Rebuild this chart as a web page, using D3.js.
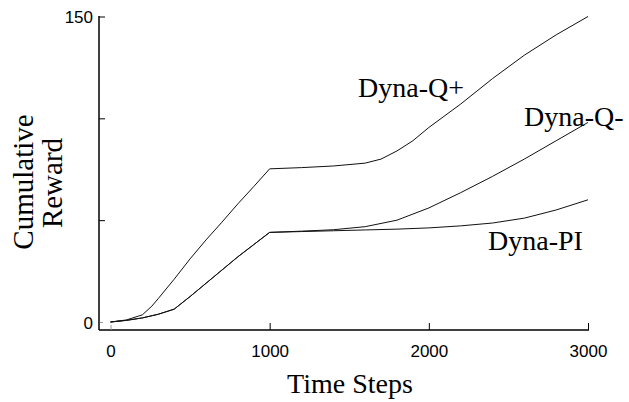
<!DOCTYPE html>
<html><head><meta charset="utf-8">
<script src="https://cdn.jsdelivr.net/npm/d3@7"></script>
<style>
body{margin:0;background:#fff;}
svg{display:block;}
</style></head>
<body><svg id="c" width="629" height="402"></svg>
<script>
const steps = [0,100,200,260,300,400,500,600,700,800,900,1000,1200,1400,1600,1700,1800,1900,2000,2200,2400,2600,2800,3000];
const dynaQPlus = [0,1,3.5,7.8,11.5,21,31,40.3,49,58,66.5,75.2,75.8,76.6,78,80,84,89,95.5,107,119.5,131,141,150];
const stepsB = [0,100,200,300,400,500,600,700,800,900,1000,1200,1400,1600,1800,2000,2200,2400,2600,2800,3000];
const dynaQMinus = [0,0.8,2,3.8,6.3,12.5,19,25.5,32,38,44,44.6,45.3,46.8,50,56,63.5,71.5,80,89,98];
const dynaPI = [0,0.8,2,3.8,6.3,12.5,19,25.5,32,38,44,44.4,44.8,45.2,45.6,46.2,47.2,48.6,51,55,60];
const xTicks = [0,1000,2000,3000];
const yTicks = [0,50,100,150];
const yTickLabels = ["0","","","150"];
const seriesNames = ["Dyna-Q+","Dyna-Q-","Dyna-PI"];

const SANS = "'Liberation Sans', Arial, sans-serif";
const SERIF = "'Liberation Serif', 'Times New Roman', 'DejaVu Serif', serif";

const svg = d3.select("#c");
const x = d3.scaleLinear().domain([0,3000]).range([110.5,588]);
const y = d3.scaleLinear().domain([0,150]).range([322,16.5]);

// axes lines
svg.append("line").attr("x1",99).attr("x2",99).attr("y1",16).attr("y2",330).attr("stroke","#000").attr("stroke-width",1.5);
svg.append("line").attr("x1",99).attr("x2",589).attr("y1",330).attr("y2",330).attr("stroke","#000").attr("stroke-width",1.5);

// x axis ticks
const xa = svg.append("g").attr("transform","translate(0,330)")
  .call(d3.axisBottom(x).tickValues(xTicks).tickSize(0).tickPadding(20).tickFormat(d3.format("d")));
xa.select(".domain").remove();
xa.selectAll("text").style("font-family",SANS).style("font-size","17px").attr("fill","#000")
  .attr("dy","0.72em").attr("y",15);
xa.selectAll(".tick").append("line").attr("x1",0).attr("x2",0)
  .attr("y1",d=>d===0?-5:-7).attr("y2",0)
  .attr("stroke",d=>d===0?"#999":"#000").attr("stroke-width",1);

// y axis ticks
const ya = svg.append("g").attr("transform","translate(99,0)")
  .call(d3.axisLeft(y).tickValues(yTicks).tickSize(0).tickPadding(6).tickFormat((d,i)=>yTickLabels[i]));
ya.select(".domain").remove();
ya.selectAll("text").style("font-family",SANS).style("font-size","17px").attr("fill","#000").attr("dy","0.36em");
ya.selectAll(".tick").append("line").attr("x1",d=>d===0?1:0).attr("x2",d=>d===0?4:6)
  .attr("y1",0).attr("y2",0)
  .attr("stroke",d=>d===0?"#999":"#000").attr("stroke-width",1);

const line = d3.line().x(d=>x(d[0])).y(d=>y(d[1]));
const data = [
  steps.map((s,i)=>[s,dynaQPlus[i]]),
  stepsB.map((s,i)=>[s,dynaQMinus[i]]),
  stepsB.map((s,i)=>[s,dynaPI[i]])
];
svg.selectAll("path.s").data(data).enter().append("path").attr("class","s")
  .attr("d",line).attr("fill","none").attr("stroke","#111").attr("stroke-width",1);

// series labels
const lab = [{t:seriesNames[0],x:358,y:97},{t:seriesNames[1],x:524,y:126},{t:seriesNames[2],x:488,y:250}];
svg.selectAll("text.lab").data(lab).enter().append("text").attr("class","lab")
  .style("font-family",SERIF).style("font-size","28px").attr("fill","#000")
  .attr("x",d=>d.x).attr("y",d=>d.y).text(d=>d.t);

// axis titles
svg.append("text").style("font-family",SERIF).style("font-size","28px").attr("text-anchor","middle")
  .attr("x",350).attr("y",393).text("Time Steps");
svg.append("text").style("font-family",SERIF).style("font-size","29px").attr("text-anchor","middle")
  .attr("transform","translate(33,182) rotate(-90)").text("Cumulative");
svg.append("text").style("font-family",SERIF).style("font-size","29px").attr("text-anchor","middle")
  .attr("transform","translate(62,183) rotate(-90)").text("Reward");
</script></body></html>
